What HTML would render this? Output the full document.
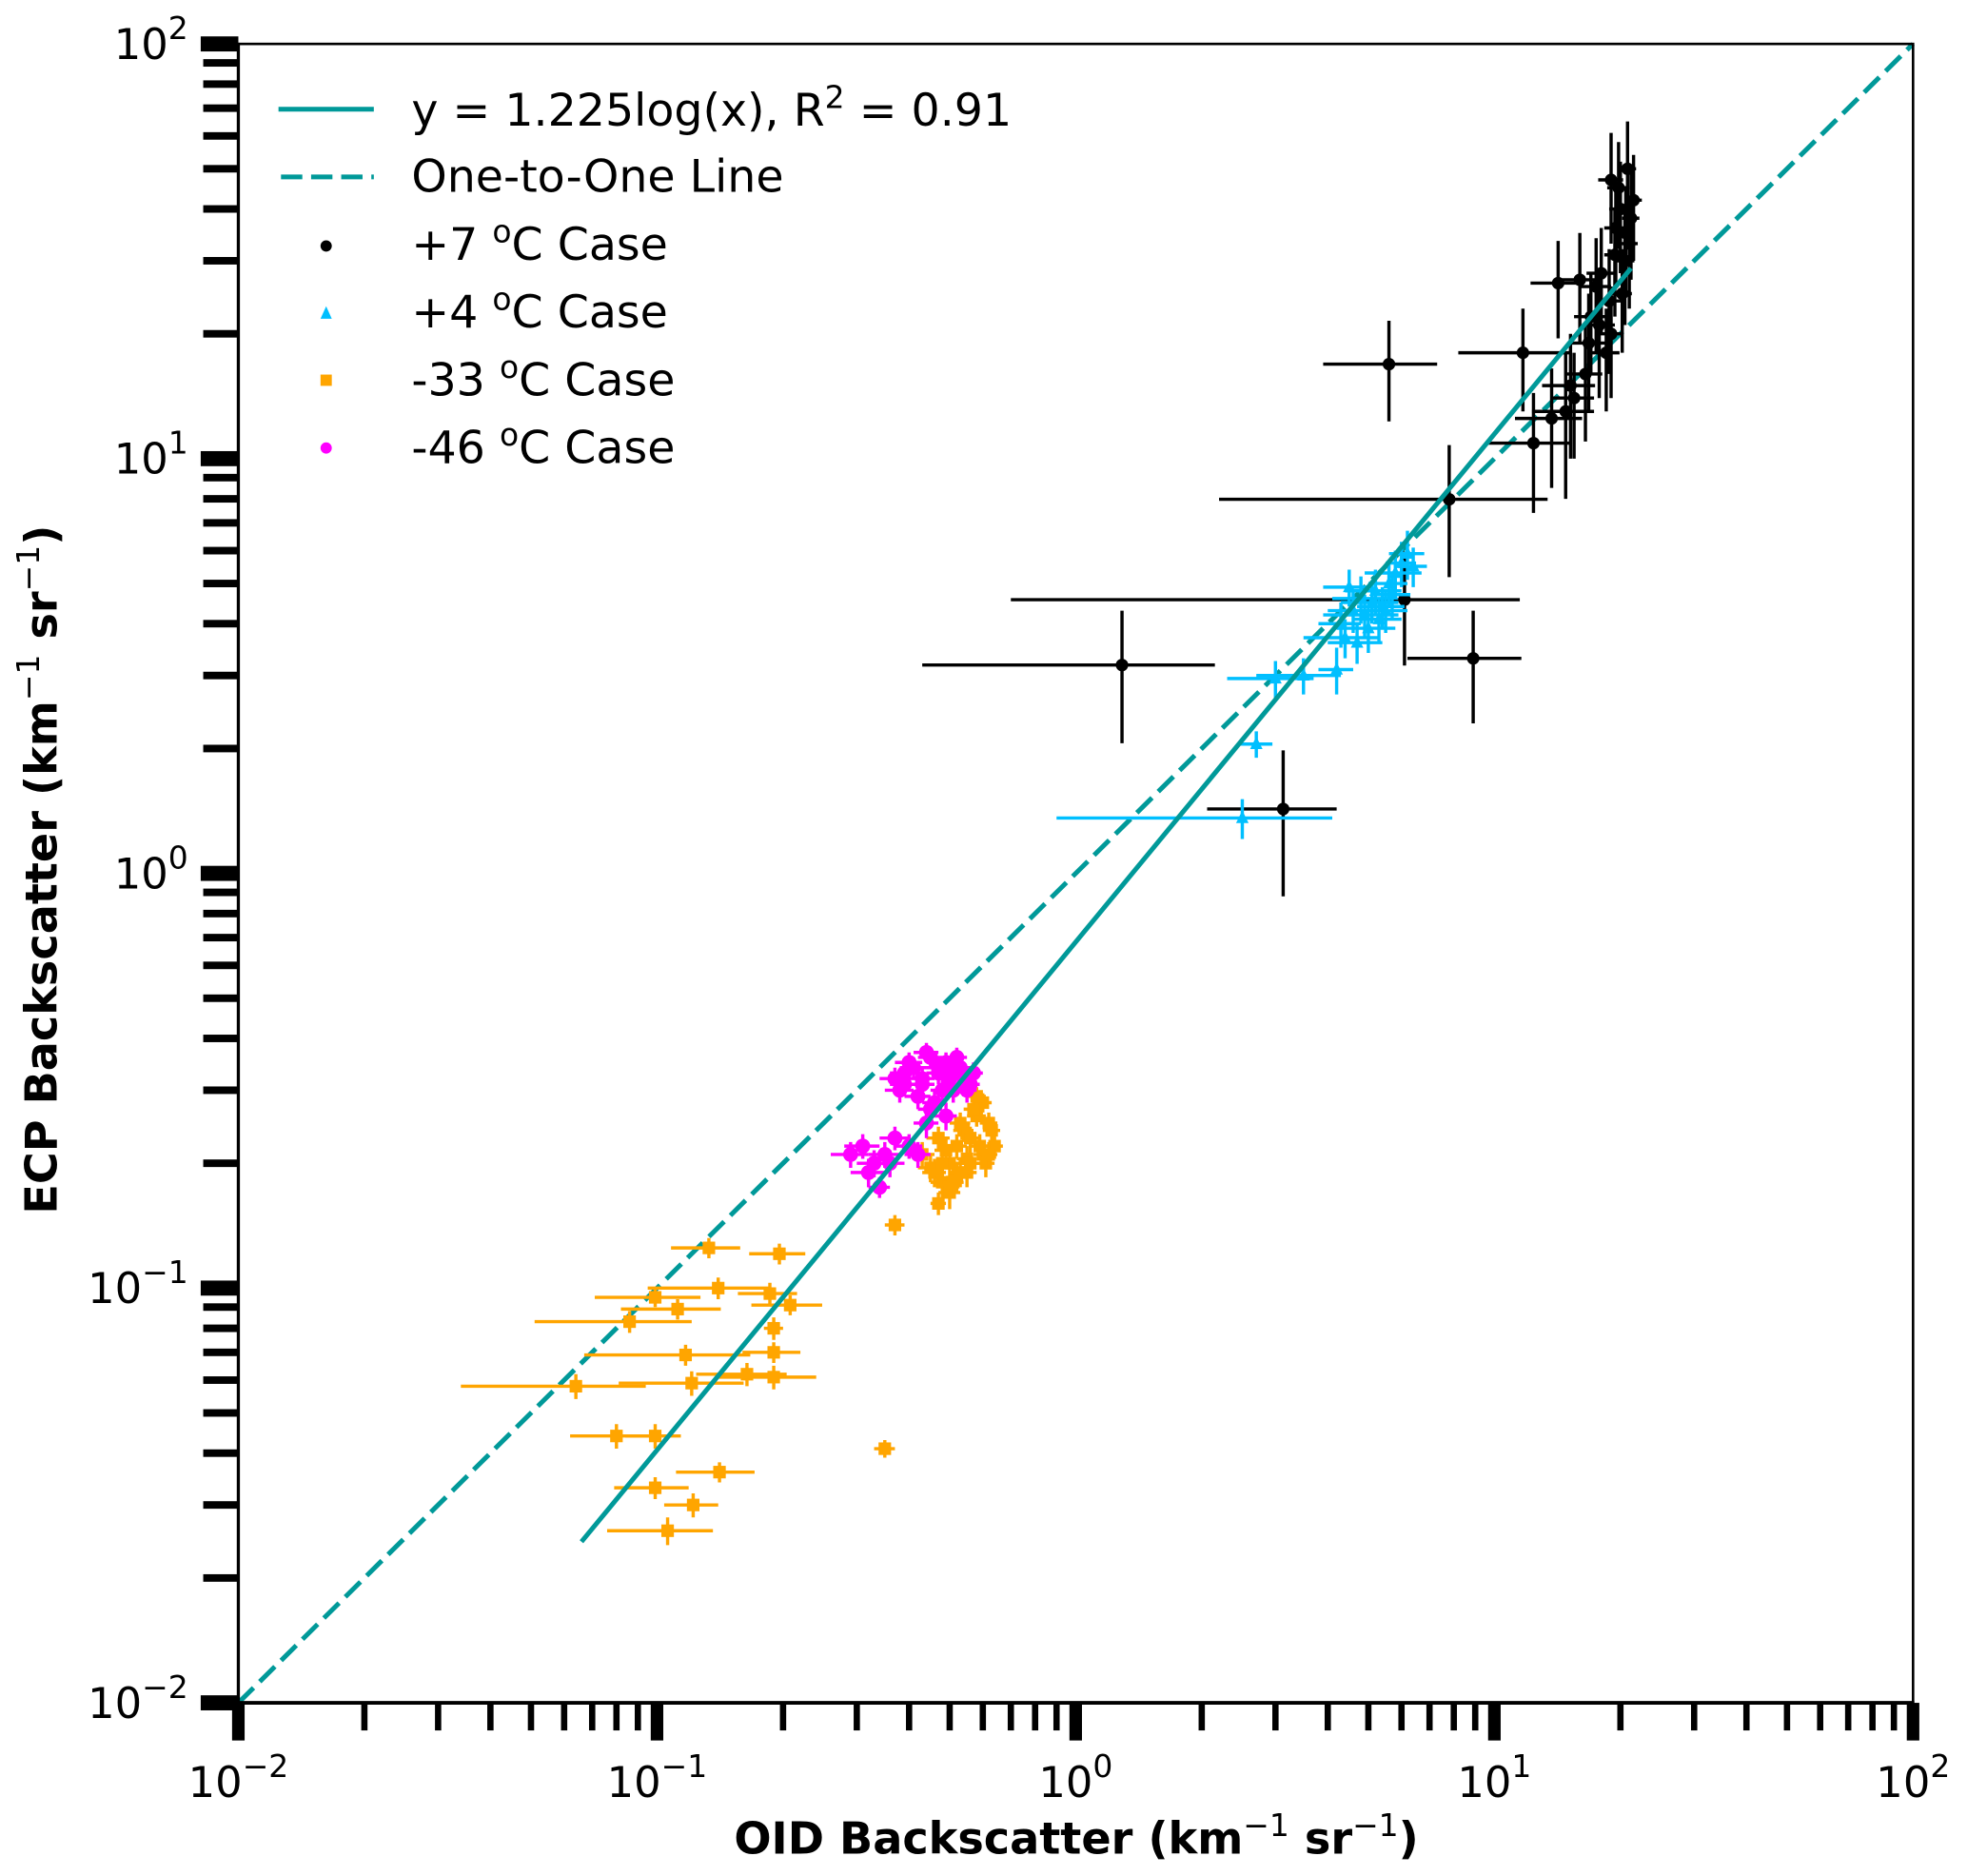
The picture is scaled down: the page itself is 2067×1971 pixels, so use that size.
<!DOCTYPE html>
<html><head><meta charset="utf-8"><style>
html,body{margin:0;padding:0;background:#fff;}
svg{display:block;font-family:"DejaVu Sans","Liberation Sans",sans-serif;}
</style></head><body>
<svg id="chart" width="2067" height="1971" viewBox="0 0 1568 1495" preserveAspectRatio="none" xmlns="http://www.w3.org/2000/svg">
<g id="grid-layer"></g>
<g id="axes-layer"></g>
</svg>
<script>
// ---- data ----
const xDecades = [-2, -1, 0, 1, 2];
const yDecades = [-2, -1, 0, 1, 2];
const fitCoef = 0.683;
const fitExp = 1.225;
const fitRange = [0.066, 21.2];
const oneToOneRange = [0.01, 100];

const warm7X = [1.29,3.13,8.9,6.1,7.8,5.6,11.7,12.4,13.7,14.2,15.5,16,17,18,19,19.5,20,20.5,21,21.2,19.8,18.5,20.8,16.5,17.5,20.2,21.5,19,20.6,19.4,14.8,15.2,16.8,17.8,18.8];
const warm7Y = [3.18,1.43,3.3,4.57,7.98,16.9,18,10.9,12.5,26.5,14,27,22,28,47,36,40,30,33,38,45,18,50,16,26,25,42,20,35,31,13,15,19,21,24];
const warm7XErr = [0.86,1.07,2.7,5.4,5.6,1.7,3.5,2.8,2.5,2.0,1.8,1.6,1.5,1.4,1.3,1.2,1.2,1.1,1.0,1.0,1.2,1.4,1.0,1.6,1.5,1.1,1.0,1.3,1.0,1.1,2.5,2.2,1.8,1.6,1.4];
const warm7YErr = [1.12,0.55,1.0,1.4,2.8,4.6,5,3.5,4,7,4,8,6,8,14,10,12,9,10,11,13,5,15,5,8,7,12,6,10,9,5,5,6,7,8];

const warm4X = [2.7,2.5,3.0,3.5,4.2,4.3,4.6,4.8,5.0,5.2,5.4,5.6,5.8,6.0,6.2,4.4,4.9,5.3,5.7,6.4,5.1,4.7,4.5,5.5];
const warm4Y = [2.05,1.36,2.95,3.0,3.1,4.0,4.3,4.6,3.9,4.8,4.4,5.0,5.3,5.6,5.9,3.7,4.2,4.1,4.7,5.5,4.5,3.6,4.9,4.3];
const warm4XErr = [0.25,1.6,0.7,0.8,0.4,0.5,0.6,0.7,0.8,0.8,0.7,0.6,0.9,0.5,0.6,0.9,1.0,0.7,0.6,0.5,0.8,0.7,0.6,0.7];
const warm4YErr = [0.15,0.15,0.3,0.3,0.4,0.5,0.5,0.6,0.5,0.6,0.5,0.6,0.7,0.7,0.8,0.4,0.5,0.5,0.6,0.6,0.5,0.4,0.5,0.5];

const cold33X = [0.064,0.086,0.099,0.112,0.117,0.121,0.14,0.133,0.186,0.208,0.196,0.19,0.19,0.164,0.19,0.08,0.099,0.099,0.141,0.122,0.106,0.35,0.37,0.47,
  0.43,0.46,0.48,0.5,0.52,0.54,0.56,0.58,0.6,0.62,0.64,0.5,0.55,0.6,0.47,0.53,0.57,0.61,0.45,0.52,0.58,0.63,0.49,0.55,0.51,0.56,0.59,0.48,0.53,0.62];
const cold33Y = [0.058,0.083,0.095,0.089,0.069,0.059,0.1,0.125,0.097,0.091,0.121,0.08,0.07,0.062,0.061,0.044,0.044,0.033,0.036,0.03,0.026,0.041,0.142,0.16,
  0.21,0.19,0.18,0.2,0.22,0.24,0.23,0.26,0.28,0.25,0.22,0.17,0.19,0.21,0.23,0.25,0.27,0.2,0.195,0.185,0.29,0.24,0.215,0.205,0.18,0.2,0.22,0.2,0.19,0.21];
const cold33XErr = [0.03,0.035,0.028,0.03,0.05,0.04,0.045,0.025,0.03,0.04,0.03,0.01,0.03,0.04,0.05,0.018,0.015,0.02,0.03,0.018,0.03,0.02,0.02,0.02,
  0.03,0.03,0.03,0.03,0.03,0.03,0.03,0.03,0.03,0.03,0.03,0.03,0.03,0.03,0.03,0.03,0.03,0.03,0.03,0.03,0.03,0.03,0.03,0.03,0.03,0.03,0.03,0.03,0.03,0.03];
const cold33YErr = [0.004,0.005,0.005,0.005,0.004,0.004,0.006,0.007,0.006,0.005,0.007,0.005,0.004,0.004,0.004,0.003,0.003,0.002,0.002,0.002,0.002,0.002,0.008,0.01,
  0.015,0.015,0.015,0.015,0.015,0.015,0.015,0.015,0.015,0.015,0.015,0.015,0.015,0.015,0.015,0.015,0.015,0.015,0.015,0.015,0.015,0.015,0.015,0.015,0.015,0.015,0.015,0.015,0.015,0.015];

const cold46X = [0.37,0.39,0.41,0.43,0.45,0.47,0.49,0.51,0.53,0.55,0.57,0.38,0.42,0.46,0.5,0.54,0.4,0.44,0.48,0.52,0.56,0.45,0.49,0.29,0.31,0.33,0.35,0.37,0.4,0.42,0.34,0.39,0.43,0.47,0.51,0.55,0.44,0.36,0.32];
const cold46Y = [0.32,0.33,0.34,0.31,0.36,0.33,0.35,0.3,0.34,0.32,0.33,0.3,0.29,0.28,0.32,0.31,0.35,0.37,0.3,0.36,0.31,0.27,0.26,0.21,0.22,0.2,0.21,0.23,0.22,0.21,0.175,0.31,0.32,0.34,0.33,0.3,0.25,0.2,0.19];
const cold46XErr = [0.03,0.03,0.03,0.03,0.03,0.03,0.03,0.03,0.03,0.03,0.03,0.03,0.03,0.03,0.03,0.03,0.03,0.03,0.03,0.03,0.03,0.03,0.03,0.03,0.03,0.03,0.03,0.03,0.03,0.03,0.02,0.03,0.03,0.03,0.03,0.03,0.03,0.03,0.03];
const cold46YErr = [0.02,0.02,0.02,0.02,0.02,0.02,0.02,0.02,0.02,0.02,0.02,0.02,0.02,0.02,0.02,0.02,0.02,0.02,0.02,0.02,0.02,0.02,0.02,0.015,0.015,0.015,0.015,0.015,0.015,0.015,0.01,0.02,0.02,0.02,0.02,0.02,0.02,0.015,0.015];

// ---- layout (viewBox units) ----
const L = 190, R = 1525, T = 35, B = 1357;
const NS = 'http://www.w3.org/2000/svg';
function xs(v){ return L + (Math.log10(v) - xDecades[0]) / (xDecades[xDecades.length-1] - xDecades[0]) * (R - L); }
function ys(v){ return B - (Math.log10(v) - yDecades[0]) / (yDecades[yDecades.length-1] - yDecades[0]) * (B - T); }
function mk(tag, attrs, parent){
  const e = document.createElementNS(NS, tag);
  for (const k in attrs) e.setAttribute(k, attrs[k]);
  parent.appendChild(e); return e;
}
const marks = document.getElementById('grid-layer');
const axes = document.getElementById('axes-layer');

let ln = mk('line', {x1:xs(oneToOneRange[0]), y1:ys(oneToOneRange[0]), x2:xs(oneToOneRange[1]), y2:ys(oneToOneRange[1]), stroke:'#009999', 'stroke-width':3.8, 'stroke-dasharray':'17 7'}, marks);



function drawSeries(X, Y, XE, YE, color, shape, name){
  const g = mk('g', {}, marks);
  
  
  for (let i = 0; i < X.length; i++){
    const cx = xs(X[i]), cy = ys(Y[i]);
    const xlo = Math.max(X[i] - XE[i], 1e-3), ylo = Math.max(Y[i] - YE[i], 1e-3);
    const eb = mk('path', {d:`M${xs(xlo)},${cy}H${xs(X[i]+XE[i])}M${cx},${ys(ylo)}V${ys(Y[i]+YE[i])}`, stroke:color, 'stroke-width':2.6, fill:'none'}, g);
    
    
    let m;
    if (shape === 'circle') m = mk('circle', {cx:cx, cy:cy, r:5, fill:color}, g);
    else if (shape === 'tri') m = mk('path', {d:`M${cx},${cy-6}L${cx+5},${cy+4}L${cx-5},${cy+4}Z`, fill:color}, g);
    else if (shape === 'sq') m = mk('rect', {x:cx-5, y:cy-5, width:10, height:10, fill:color}, g);
    else m = mk('circle', {cx:cx, cy:cy, r:6, fill:color}, g);
    
    
  }
}
drawSeries(cold33X, cold33Y, cold33XErr, cold33YErr, '#ffa500', 'sq', 'minus33c');
drawSeries(cold46X, cold46Y, cold46XErr, cold46YErr, '#ff00ff', 'x', 'minus46c');
drawSeries(warm7X, warm7Y, warm7XErr, warm7YErr, '#000000', 'circle', 'plus7c');
drawSeries(warm4X, warm4Y, warm4XErr, warm4YErr, '#00bfff', 'tri', 'plus4c');

let fl = mk('line', {x1:xs(fitRange[0]), y1:ys(fitCoef*Math.pow(fitRange[0],fitExp)), x2:xs(fitRange[1]), y2:ys(fitCoef*Math.pow(fitRange[1],fitExp)), stroke:'#009999', 'stroke-width':3.8}, marks);



let fr = mk('rect', {x:L, y:T, width:R-L, height:B-T, fill:'none', stroke:'#000', 'stroke-width':2}, axes);


mk('line', {x1:L-1, y1:B, x2:R+1, y2:B, stroke:'#000', 'stroke-width':3}, axes);
mk('line', {x1:L, y1:T-1, x2:L, y2:B+1, stroke:'#000', 'stroke-width':2.5}, axes);

xDecades.forEach((d, i) => {
  const v = Math.pow(10, d), px = xs(v);
  mk('rect', {x:px-5, y:B, width:10, height:30, fill:'#000'}, axes);
  const t = mk('text', {x:px, y:B+75, 'text-anchor':'middle', 'font-size':34}, axes);
  t.innerHTML = '10<tspan dy="-16" font-size="25">' + (d<0?'\u2212':'') + Math.abs(d) + '</tspan>';
  
  
  if (i < xDecades.length-1) for (let k = 2; k <= 9; k++){
    const mx = xs(k*v);
    mk('rect', {x:mx-2.5, y:B, width:5, height:22, fill:'#000'}, axes);
  }
});
yDecades.forEach((d, i) => {
  const v = Math.pow(10, d), py = ys(v);
  mk('rect', {x:L-30, y:py-6, width:30, height:12, fill:'#000'}, axes);
  const t = mk('text', {x:L-40, y:py+12, 'text-anchor':'end', 'font-size':34}, axes);
  t.innerHTML = '10<tspan dy="-16" font-size="25">' + (d<0?'\u2212':'') + Math.abs(d) + '</tspan>';
  
  
  if (i < yDecades.length-1) for (let k = 2; k <= 9; k++){
    const my = ys(k*v);
    mk('rect', {x:L-28, y:my-3, width:28, height:6, fill:'#000'}, axes);
  }
});
</script>
<svg style="position:absolute;left:0;top:0" width="2067" height="1971" viewBox="0 0 1568 1495" preserveAspectRatio="none" xmlns="http://www.w3.org/2000/svg" font-family="DejaVu Sans, Liberation Sans, sans-serif">
<text x="858" y="1477" text-anchor="middle" font-size="35" font-weight="bold">OID Backscatter (km<tspan dy="-14" font-size="25" font-weight="normal">−1</tspan><tspan dy="14"> sr</tspan><tspan dy="-14" font-size="25" font-weight="normal">−1</tspan><tspan dy="14">)</tspan></text>
<text transform="translate(45,693) rotate(-90)" text-anchor="middle" font-size="35" font-weight="bold">ECP Backscatter (km<tspan dy="-14" font-size="25" font-weight="normal">−1</tspan><tspan dy="14"> sr</tspan><tspan dy="-14" font-size="25" font-weight="normal">−1</tspan><tspan dy="14">)</tspan></text>
<g font-size="36">
<line x1="222" y1="87" x2="298" y2="87" stroke="#009999" stroke-width="3.8"/>
<text x="328" y="100">y = 1.225log(x), R<tspan dy="-14" font-size="25">2</tspan><tspan dy="14"> = 0.91</tspan></text>
<line x1="224" y1="141" x2="298" y2="141" stroke="#009999" stroke-width="3.8" stroke-dasharray="17 7"/>
<text x="328" y="153">One-to-One Line</text>
<circle cx="260" cy="196" r="4.5" fill="#000"/>
<text x="328" y="207">+7 <tspan dy="-14" font-size="25">o</tspan><tspan dy="14">C Case</tspan></text>
<path d="M260,244L264.5,254L255.5,254Z" fill="#00bfff"/>
<text x="328" y="261">+4 <tspan dy="-14" font-size="25">o</tspan><tspan dy="14">C Case</tspan></text>
<rect x="255.5" y="298.5" width="9" height="9" fill="#ffa500"/>
<text x="328" y="315">-33 <tspan dy="-14" font-size="25">o</tspan><tspan dy="14">C Case</tspan></text>
<circle cx="260" cy="357" r="4.5" fill="#ff00ff"/>
<text x="328" y="369">-46 <tspan dy="-14" font-size="25">o</tspan><tspan dy="14">C Case</tspan></text>
</g>
</svg>
</body></html>
